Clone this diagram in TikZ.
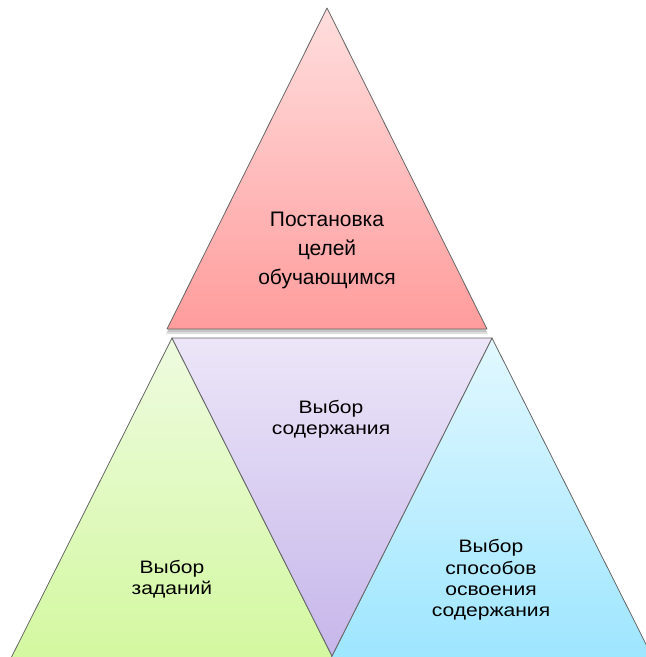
\documentclass[tikz,border=0pt]{standalone}
\usepackage{fontspec}
\setmainfont{Liberation Sans}
\newfontfamily\widefont[FakeStretch=1.17]{Liberation Sans}
\usepackage{xcolor}

\definecolor{pinkA}{RGB}{255,222,222}
\definecolor{pinkB}{RGB}{255,156,156}
\definecolor{greenA}{RGB}{238,251,224}
\definecolor{greenB}{RGB}{210,248,158}
\definecolor{lilacA}{RGB}{236,230,248}
\definecolor{lilacB}{RGB}{198,182,234}
\definecolor{cyanA}{RGB}{226,248,255}
\definecolor{cyanB}{RGB}{156,229,255}

\begin{document}
\begin{tikzpicture}[x=1pt,y=-1pt,
		tri/.style={draw=black!60,line width=0.8pt,line join=round},
		big label/.style={align=center,font=\fontsize{21}{29}\selectfont},
		small label/.style={align=center,font=\widefont\fontsize{18}{21.3}\selectfont}]
	\useasboundingbox (0,0) rectangle (646,657);
	% Shadow of the top triangle
	\fill[black,opacity=0.12] (327,12) -- (488,334) -- (166,334) -- cycle;
	\fill[black,opacity=0.12] (327,10) -- (487,332) -- (167,332) -- cycle;
	% Triangles
	\shade[tri,top color=pinkA,bottom color=pinkB] (327,8) -- (487,329) -- (167,329) -- cycle;
	\shade[tri,top color=greenA,bottom color=greenB] (172,338) -- (337.5,667) -- (6.5,667) -- cycle;
	\shade[tri,top color=cyanA,bottom color=cyanB] (492,338) -- (657.5,667) -- (326.5,667) -- cycle;
	\shade[tri,top color=lilacA,bottom color=lilacB] (172,338) -- (492,338) -- (332,656) -- cycle;
	% Labels
	\node[big label] (goals) at (327,250) {Постановка\\целей\\обучающимся};
	\node[small label] (content) at (331,419) {Выбор\\содержания};
	\node[small label] (tasks) at (172,579) {Выбор\\заданий};
	\node[small label] (methods) at (491,580) {Выбор\\способов\\освоения\\содержания};
\end{tikzpicture}
\end{document}
